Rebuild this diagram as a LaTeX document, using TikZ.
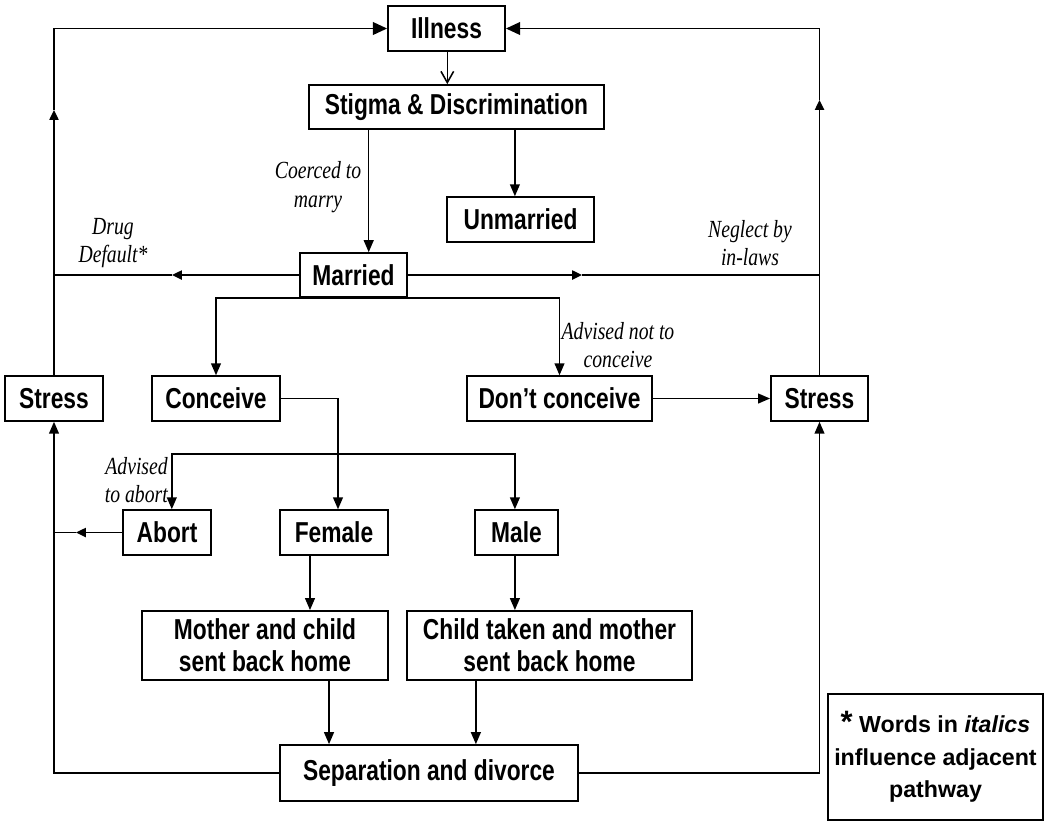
\documentclass[tikz,border=0pt]{standalone}
\usepackage{fontspec}
\usetikzlibrary{arrows.meta}
\newfontfamily\boxfont[FakeStretch=0.79]{Liberation Sans}
\newfontfamily\notefont[FakeStretch=0.8]{Liberation Serif}
\newfontfamily\keyfont{Liberation Sans}

\begin{document}
\begin{tikzpicture}[x=0.025cm,y=-0.025cm,
  box/.style={draw,line width=1.2pt,inner sep=0pt,align=center,minimum height=1.12cm,
    font=\boxfont\bfseries\fontsize{20.5}{23}\selectfont},
  note/.style={align=center,inner sep=0pt,font=\notefont\itshape\fontsize{17.5}{20.5}\selectfont},
  wire/.style={line width=1.1pt},
  arr/.style={wire,-{Triangle[length=8.5pt,width=7pt]}},
  bigarr/.style={wire,-{Triangle[length=10pt,width=9pt]}},
  midarr/.style={wire,-{Triangle[length=7pt,width=6.5pt]}}]
\useasboundingbox (0,0) rectangle (1050,825);

\node[box,minimum width=2.93cm] (illness) at (446.5,28.5) {Illness};
\node[box,minimum width=7.38cm,minimum height=1.1cm] (stigma) at (456.5,107) {Stigma \& Discrimination};
\node[box,minimum width=3.68cm] (unmarried) at (520.5,219.5) {Unmarried};
\node[box,minimum width=2.68cm,minimum height=1.1cm] (married) at (353.5,275) {Married};
\node[box,minimum width=2.45cm] (stressL) at (54,398.5) {Stress};
\node[box,minimum width=3.2cm] (conceive) at (216,398.5) {Conceive};
\node[box,minimum width=4.63cm] (dontc) at (559.5,398.5) {Don’t conceive};
\node[box,minimum width=2.43cm] (stressR) at (819.5,398.5) {Stress};
\node[box,minimum width=2.2cm] (abort) at (167,532.5) {Abort};
\node[box,minimum width=2.7cm] (female) at (334,532.5) {Female};
\node[box,minimum width=2.08cm] (male) at (516.5,532.5) {Male};
\node[box,minimum width=6.15cm,minimum height=1.73cm] (mother) at (265,645.5) {Mother and child\\sent back home};
\node[box,minimum width=7.13cm,minimum height=1.73cm] (child) at (549.5,645.5) {Child taken and mother\\sent back home};
\node[box,minimum width=7.45cm,minimum height=1.4cm] (sep) at (429,773) {Separation and divorce};
\node[draw,line width=1.2pt,minimum width=5.38cm,minimum height=3.15cm,align=center,
  font=\keyfont\bfseries\fontsize{16.5}{23}\selectfont] (key) at (935.5,757)
  {{\fontsize{22}{23}\selectfont*} Words in \textit{italics}\\influence adjacent\\pathway};

\node[note] (coerced) at (318,187) {Coerced to\\marry};
\node[note] (drug) at (113,243) {Drug\\Default*};
\node[note] (neglect) at (750,243) {Neglect by\\in-laws};
\node[note] (notconceive) at (618,345) {Advised not to\\conceive};
\node[note,align=right,anchor=east] (toabort) at (168,480) {Advised\\to abort};

\coordinate (upL) at (54,110);
\coordinate (upR) at (819.5,100);
\coordinate (midL) at (172,275);
\coordinate (midR) at (582,275);
\coordinate (abortL) at (76,532.5);
\coordinate (split) at (338,454);

% top of the chart
\draw[wire,-{Straight Barb[length=8pt,width=9pt]}] ([xshift=0.02cm]illness.south) -- ([xshift=0.02cm]illness.south |- stigma.north);
\draw[arr] ([xshift=-0.14cm]unmarried.north |- stigma.south) -- ([xshift=-0.14cm]unmarried.north);
\draw[arr] ([xshift=0.38cm]married.north |- stigma.south) -- ([xshift=0.38cm]married.north);

% married to either side
\draw[midarr] (married.west) -- (midL);
\draw[wire] (midL) -- (midL -| stressL);
\draw[midarr] (married.east) -- (midR);
\draw[wire] (midR) -- (midR -| stressR);

% stress back up to illness
\draw[midarr] (stressL.north) -- (upL);
\draw[bigarr] (upL) |- (illness.west);
\draw[midarr] (stressR.north) -- (upR);
\draw[bigarr] (upR) |- (illness.east);

% conceive or not
\draw[arr] (married.south) -| (conceive.north);
\draw[arr] (married.south) -| (dontc.north);
\draw[arr] (dontc.east) -- (stressR.west);

\draw[arr] (conceive.east) -| ([xshift=0.1cm]female.north);
\draw[arr] (split) -| ([xshift=0.12cm]abort.north);
\draw[arr] (split) -| ([xshift=-0.04cm]male.north);
\draw[midarr] (abort.west) -- (abortL);
\draw[wire] (abortL) -- (abortL -| stressL);

% sent back home
\draw[arr] ([xshift=-0.6cm]female.south) -- ([xshift=-0.6cm]female.south |- mother.north);
\draw[arr] ([xshift=-0.04cm]male.south) -- ([xshift=-0.04cm]male.south |- child.north);
\draw[arr] ([xshift=1.6cm]mother.south) -- ([xshift=1.6cm]mother.south |- sep.north);
\draw[arr] ([xshift=-1.84cm]child.south) -- ([xshift=-1.84cm]child.south |- sep.north);

% separation back to stress
\draw[arr] (sep.west) -| (stressL.south);
\draw[arr] (sep.east) -| (stressR.south);
\end{tikzpicture}
\end{document}
